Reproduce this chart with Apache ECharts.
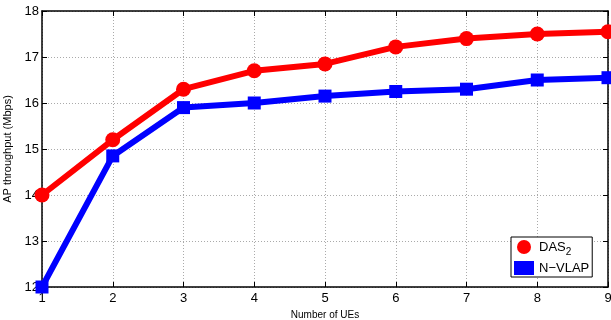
<!DOCTYPE html>
<html><head><meta charset="utf-8">
<script src="https://cdn.jsdelivr.net/npm/echarts@6/dist/echarts.min.js"></script>
<style>html,body{margin:0;padding:0;background:#fff}#c{width:611px;height:320px}</style>
</head><body><div id="c"></div>
<script>
var categories = [1,2,3,4,5,6,7,8,9];
var das2 = [14.0,15.2,16.3,16.7,16.85,17.22,17.4,17.5,17.55];
var nvlap = [12.0,14.85,15.9,16.0,16.15,16.25,16.3,16.5,16.55];
var yTicks = [12,13,14,15,16,17,18];
var F = 'Liberation Sans, Arial, sans-serif';
var chart = echarts.init(document.getElementById('c'));
function pairs(arr){return categories.map(function(x,i){return [x,arr[i]];});}
var axLine = {show:true,lineStyle:{color:'#000',width:1.5}};
chart.setOption({
  animation:false,
  grid:{left:42,right:3,top:11,bottom:33,containLabel:false,outerBoundsMode:'none'},
  xAxis:[
    {type:'value',min:1,max:9,interval:1,position:'bottom',axisLine:axLine,
     axisTick:{show:true,inside:true,length:5,lineStyle:{color:'#000'}},
     axisLabel:{color:'#000',fontFamily:F,fontSize:13,margin:5},
     splitLine:{show:true,lineStyle:{color:'#aaa',type:[1,2],width:1}},
     name:'Number of UEs',nameLocation:'middle',nameGap:19,nameTextStyle:{color:'#000',fontFamily:F,fontSize:10}},
    {type:'value',min:1,max:9,interval:1,position:'top',axisLine:axLine,
     axisTick:{show:true,inside:true,length:5,lineStyle:{color:'#000'}},
     axisLabel:{show:false},splitLine:{show:false}}
  ],
  yAxis:[
    {type:'value',min:12,max:18,interval:1,position:'left',axisLine:axLine,
     axisTick:{show:true,inside:true,length:5,lineStyle:{color:'#000'}},
     axisLabel:{color:'#000',fontFamily:F,fontSize:13,margin:3,formatter:function(v){return yTicks.indexOf(v)>=0?String(v):'';}},
     splitLine:{show:true,lineStyle:{color:'#aaa',type:[1,2],width:1}},
     name:'AP throughput (Mbps)',nameLocation:'middle',nameGap:20,nameRotate:90,nameTextStyle:{color:'#000',fontFamily:F,fontSize:11}},
    {type:'value',min:12,max:18,interval:1,position:'right',axisLine:axLine,
     axisTick:{show:true,inside:true,length:5,lineStyle:{color:'#000'}},
     axisLabel:{show:false},splitLine:{show:false}}
  ],
  legend:{
    orient:'vertical',left:511,top:237,
    backgroundColor:'#fff',borderColor:'#000',borderWidth:1,padding:[3,3,2,3],
    itemGap:4,itemWidth:20,itemHeight:14,
    textStyle:{color:'#000',fontFamily:F,fontSize:13,
      rich:{a:{fontFamily:F,fontSize:13,color:'#000'},s:{fontFamily:F,fontSize:10,color:'#000',verticalAlign:'bottom',padding:[10,0,0,0]}}},
    formatter:function(n){return n==='DAS2'?'{a|DAS}{s|2}':'{a|'+n+'}';},
    data:[{name:'DAS2',icon:'circle'},{name:'N\u2212VLAP',icon:'rect'}]
  },
  series:[
    {name:'DAS2',type:'line',data:pairs(das2),symbol:'circle',symbolSize:15,
     lineStyle:{color:'#ff0000',width:6},itemStyle:{color:'#ff0000'},z:3},
    {name:'N\u2212VLAP',type:'line',data:pairs(nvlap),symbol:'rect',symbolSize:13,
     lineStyle:{color:'#0000ff',width:6},itemStyle:{color:'#0000ff'},z:2}
  ]
});
</script></body></html>
